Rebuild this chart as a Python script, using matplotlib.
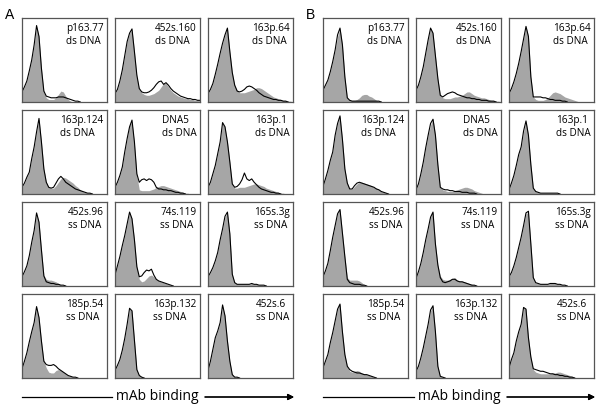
import numpy as np
import matplotlib.pyplot as plt
from matplotlib.lines import Line2D

# channel positions (fraction of the axis) shared by all histograms
bins = np.linspace(0, 1, 36)

clones = ['p163.77', '452s.160', '163p.64', '163p.124', 'DNA5', '163p.1',
          '452s.96', '74s.119', '165s.3g', '185p.54', '163p.132', '452s.6']
antigens = ['ds DNA'] * 6 + ['ss DNA'] * 6

# Panel A: gray filled histogram and black outline histogram (% of box height)
a1_fill = [12, 18, 25, 37, 50, 68, 90, 78, 40, 12, 5, 3, 3, 3, 5, 9, 13, 12, 7, 3, 1, 0]
a1_line = [12, 18, 25, 37, 50, 68, 91, 78, 40, 13, 7, 6, 5, 5, 5, 6, 6, 6, 5, 4, 3, 2, 1, 1, 0]
a2_fill = [10, 15, 25, 38, 55, 72, 82, 86, 60, 30, 15, 11, 9, 8, 8, 9, 10, 12, 14, 18, 22, 22, 18, 14, 11, 9, 7, 6, 5, 4, 4, 3, 3, 2, 2, 2]
a2_line = [10, 15, 25, 38, 55, 72, 82, 87, 60, 32, 16, 12, 11, 11, 12, 14, 17, 21, 24, 25, 21, 23, 20, 16, 13, 11, 9, 7, 6, 5, 4, 4, 3, 3, 2, 2]
a3_fill = [10, 15, 22, 33, 45, 58, 70, 80, 88, 60, 35, 20, 14, 11, 11, 11, 12, 13, 14, 15, 17, 17, 16, 14, 12, 10, 8, 6, 5, 4, 3, 2, 2, 1, 1, 0]
a3_line = [10, 15, 22, 33, 45, 58, 70, 80, 88, 60, 35, 20, 13, 12, 13, 15, 18, 19, 18, 16, 14, 11, 9, 7, 6, 5, 4, 3, 3, 2, 2, 1, 1, 0]
a4_fill = [8, 13, 20, 26, 42, 56, 74, 90, 62, 30, 14, 8, 7, 7, 10, 14, 18, 20, 19, 17, 15, 13, 10, 8, 5, 3, 2, 1, 1, 0]
a4_line = [8, 13, 20, 26, 42, 56, 74, 90, 62, 30, 14, 8, 7, 8, 13, 18, 21, 18, 14, 12, 10, 8, 6, 5, 4, 3, 2, 1, 1, 0]
a5_fill = [8, 14, 22, 32, 50, 66, 82, 86, 60, 22, 5, 4, 4, 4, 4, 5, 6, 8, 9, 10, 10, 9, 8, 7, 6, 5, 4, 3, 2, 1, 1, 0]
a5_line = [8, 14, 22, 32, 50, 66, 80, 88, 62, 24, 14, 17, 18, 16, 18, 17, 14, 8, 6, 6, 5, 5, 4, 4, 3, 2, 2, 1, 1, 0]
a6_fill = [8, 14, 24, 34, 48, 62, 84, 80, 62, 38, 12, 7, 7, 8, 8, 8, 9, 10, 11, 12, 12, 11, 10, 9, 7, 6, 5, 4, 3, 2, 1, 1, 0]
a6_line = [8, 14, 24, 34, 48, 62, 85, 80, 62, 38, 12, 8, 9, 12, 17, 25, 18, 16, 18, 14, 11, 8, 6, 5, 4, 3, 2, 2, 1, 1, 0]
a7_fill = [11, 17, 24, 36, 52, 66, 86, 76, 43, 13, 8, 7, 7, 6, 5, 3, 1, 0]
a7_line = [11, 17, 24, 36, 52, 66, 87, 76, 43, 12, 5, 4, 3, 3, 2, 2, 1, 1, 0]
a8_fill = [13, 24, 35, 48, 60, 74, 88, 80, 55, 23, 8, 5, 6, 9, 12, 13, 11, 8, 6, 5, 4, 3, 2, 1, 0]
a8_line = [13, 24, 35, 48, 60, 74, 88, 80, 55, 23, 11, 12, 16, 19, 18, 20, 13, 8, 6, 5, 4, 3, 2, 1, 0]
a9_fill = [11, 16, 22, 30, 40, 55, 68, 82, 88, 62, 14, 4, 2, 2, 2, 2, 2, 2, 3, 2, 2, 1, 1, 1, 0]
a9_line = [11, 16, 22, 30, 40, 55, 68, 83, 88, 62, 14, 4, 2, 2, 2, 2, 2, 2, 3, 2, 2, 1, 1, 1, 0]
a10_fill = [11, 20, 30, 43, 55, 66, 84, 72, 44, 20, 12, 7, 6, 6, 9, 10, 9, 7, 5, 3, 2, 1, 1, 0]
a10_line = [11, 20, 30, 43, 55, 66, 85, 72, 44, 20, 16, 15, 15, 16, 14, 11, 9, 7, 5, 3, 2, 1, 1, 0]
a11_fill = [9, 15, 22, 33, 47, 64, 82, 80, 45, 10, 3, 1, 0]
a11_line = [9, 15, 22, 33, 47, 64, 83, 80, 45, 10, 3, 1, 0]
a12_fill = [9, 20, 34, 48, 56, 66, 86, 74, 44, 20, 4, 1, 1, 0]
a12_line = [9, 20, 34, 48, 56, 66, 87, 74, 44, 20, 4, 1, 1, 0]

# Panel B
b1_fill = [14, 20, 26, 36, 48, 62, 78, 88, 68, 30, 5, 2, 2, 2, 3, 5, 8, 9, 9, 7, 6, 4, 2, 1, 0]
b1_line = [14, 20, 26, 36, 48, 62, 80, 88, 68, 30, 5, 2, 1, 1, 1, 1, 1, 1, 1, 1, 1, 1, 1, 1, 0]
b2_fill = [14, 20, 30, 42, 58, 74, 88, 82, 55, 28, 8, 5, 4, 4, 4, 5, 6, 6, 7, 8, 10, 12, 12, 10, 8, 7, 6, 5, 5, 4, 3, 2, 2, 1, 1, 0]
b2_line = [14, 20, 30, 42, 58, 74, 88, 82, 55, 28, 8, 6, 8, 10, 11, 12, 11, 9, 8, 7, 6, 5, 5, 4, 4, 3, 3, 2, 2, 2, 1, 1, 1, 0]
b3_fill = [10, 16, 24, 34, 46, 60, 75, 90, 78, 30, 6, 3, 2, 2, 2, 3, 5, 8, 11, 12, 11, 10, 8, 6, 5, 4, 3, 2, 1, 0]
b3_line = [10, 16, 24, 34, 46, 60, 75, 90, 78, 30, 6, 6, 6, 6, 5, 5, 4, 3, 3, 2, 2, 2, 1, 1, 0]
b4_fill = [9, 18, 28, 40, 50, 70, 84, 93, 65, 30, 13, 6, 6, 9, 12, 14, 14, 13, 12, 11, 10, 8, 7, 5, 3, 2, 1, 0]
b4_line = [9, 18, 28, 40, 50, 70, 84, 93, 65, 30, 13, 6, 6, 10, 13, 14, 13, 12, 11, 10, 9, 8, 6, 5, 3, 2, 1, 0]
b5_fill = [5, 12, 24, 38, 55, 70, 82, 90, 70, 35, 8, 5, 4, 3, 3, 3, 4, 5, 6, 7, 8, 8, 7, 6, 4, 3, 2, 1, 0]
b5_line = [5, 12, 24, 38, 55, 70, 84, 89, 70, 35, 8, 6, 5, 5, 4, 4, 3, 3, 3, 2, 2, 2, 1, 1, 1, 0]
b6_fill = [5, 13, 22, 34, 47, 56, 74, 87, 70, 35, 7, 3, 2, 1, 1, 1, 1, 1, 1, 1, 1, 0]
b6_line = [5, 13, 22, 34, 47, 56, 75, 87, 70, 35, 7, 3, 2, 1, 1, 1, 1, 1, 1, 1, 1, 0]
b7_fill = [11, 18, 27, 42, 58, 72, 86, 91, 63, 35, 10, 7, 7, 7, 7, 6, 4, 1, 0]
b7_line = [11, 18, 27, 42, 58, 72, 86, 91, 63, 35, 8, 4, 3, 2, 2, 2, 1, 1, 0]
b8_fill = [9, 17, 27, 40, 55, 68, 82, 88, 50, 25, 12, 8, 7, 7, 8, 9, 10, 7, 6, 6, 5, 4, 3, 2, 1, 0]
b8_line = [9, 17, 27, 40, 55, 68, 82, 88, 50, 25, 10, 5, 4, 5, 6, 8, 8, 6, 5, 5, 4, 3, 2, 1, 1, 0]
b9_fill = [11, 16, 24, 34, 46, 58, 72, 86, 88, 50, 10, 4, 3, 2, 2, 2, 2, 3, 3, 3, 2, 2, 1, 1, 0]
b9_line = [11, 16, 24, 34, 46, 58, 72, 87, 89, 50, 10, 4, 3, 2, 2, 2, 2, 3, 3, 3, 2, 2, 1, 1, 0]
b10_fill = [12, 20, 28, 42, 54, 68, 82, 88, 55, 28, 14, 8, 7, 8, 9, 8, 6, 5, 4, 3, 2, 1, 0]
b10_line = [12, 20, 28, 42, 54, 68, 82, 88, 55, 28, 14, 10, 8, 7, 6, 6, 5, 4, 4, 3, 2, 1, 0]
b11_fill = [8, 14, 24, 36, 50, 64, 80, 86, 55, 14, 2, 1, 0]
b11_line = [8, 14, 24, 36, 50, 64, 81, 86, 55, 14, 2, 1, 0]
b12_fill = [12, 22, 30, 44, 55, 64, 84, 82, 48, 25, 10, 7, 6, 5, 5, 5, 5, 5, 6, 6, 7, 7, 6, 5, 4, 3, 2, 1, 0]
b12_line = [12, 22, 30, 44, 55, 64, 84, 82, 48, 25, 11, 10, 9, 8, 8, 7, 6, 5, 5, 4, 4, 3, 3, 2, 2, 1, 1, 0]

panel_a = [(a1_fill, a1_line), (a2_fill, a2_line), (a3_fill, a3_line),
           (a4_fill, a4_line), (a5_fill, a5_line), (a6_fill, a6_line),
           (a7_fill, a7_line), (a8_fill, a8_line), (a9_fill, a9_line),
           (a10_fill, a10_line), (a11_fill, a11_line), (a12_fill, a12_line)]
panel_b = [(b1_fill, b1_line), (b2_fill, b2_line), (b3_fill, b3_line),
           (b4_fill, b4_line), (b5_fill, b5_line), (b6_fill, b6_line),
           (b7_fill, b7_line), (b8_fill, b8_line), (b9_fill, b9_line),
           (b10_fill, b10_line), (b11_fill, b11_line), (b12_fill, b12_line)]

W, H = 600, 408
fig = plt.figure(figsize=(6, 4.08), dpi=100)

# box layout in pixels
col_left = {'A': [22, 115, 208], 'B': [323, 416, 509]}
row_top = [18, 110, 202, 294]
box_w, box_h = 85, 84

label_font = 'Open Sans'

for panel, data in [('A', panel_a), ('B', panel_b)]:
    for i, (fill, line) in enumerate(data):
        r, c = divmod(i, 3)
        x0 = col_left[panel][c]
        y0 = row_top[r]
        ax = fig.add_axes([x0 / W, 1 - (y0 + box_h) / H, box_w / W, box_h / H])
        ax.fill_between(bins[:len(fill)], 0, fill, color='#a6a6a6', lw=0)
        ax.plot(bins[:len(line)], line, color='black', lw=0.8)
        ax.set_xlim(0, 1)
        ax.set_ylim(0, 100)
        ax.set_xticks([])
        ax.set_yticks([])
        for s in ax.spines.values():
            s.set_color('#555555')
            s.set_linewidth(0.9)
        ax.text(0.96, 0.935, clones[i] + '\n' + antigens[i], transform=ax.transAxes,
                ha='right', va='top', multialignment='left', fontsize=7.2,
                family=label_font, linespacing=1.2)

# panel letters
fig.text(5 / W, 1 - 15 / H, 'A', fontsize=10, family='Liberation Sans', va='center')
fig.text(306 / W, 1 - 15 / H, 'B', fontsize=10, family='Liberation Sans', va='center')

# x-axis arrows "mAb binding"
ay = 1 - 397 / H
for left, mid, right in [(22, 157, 294), (323, 459, 595)]:
    fig.add_artist(Line2D([left / W, (mid - 45) / W], [ay, ay], color='black', lw=0.9,
                          transform=fig.transFigure))
    fig.text(mid / W, ay, 'mAb binding', ha='center', va='center', fontsize=10,
             family=label_font)
    fig.add_artist(plt.annotate('', xy=(right / W, ay), xytext=((mid + 48) / W, ay),
                                xycoords='figure fraction', textcoords='figure fraction',
                                arrowprops=dict(arrowstyle='-|>', color='black', lw=0.9,
                                                mutation_scale=9, shrinkA=0, shrinkB=0)))

fig.savefig('out.png', dpi=100)
